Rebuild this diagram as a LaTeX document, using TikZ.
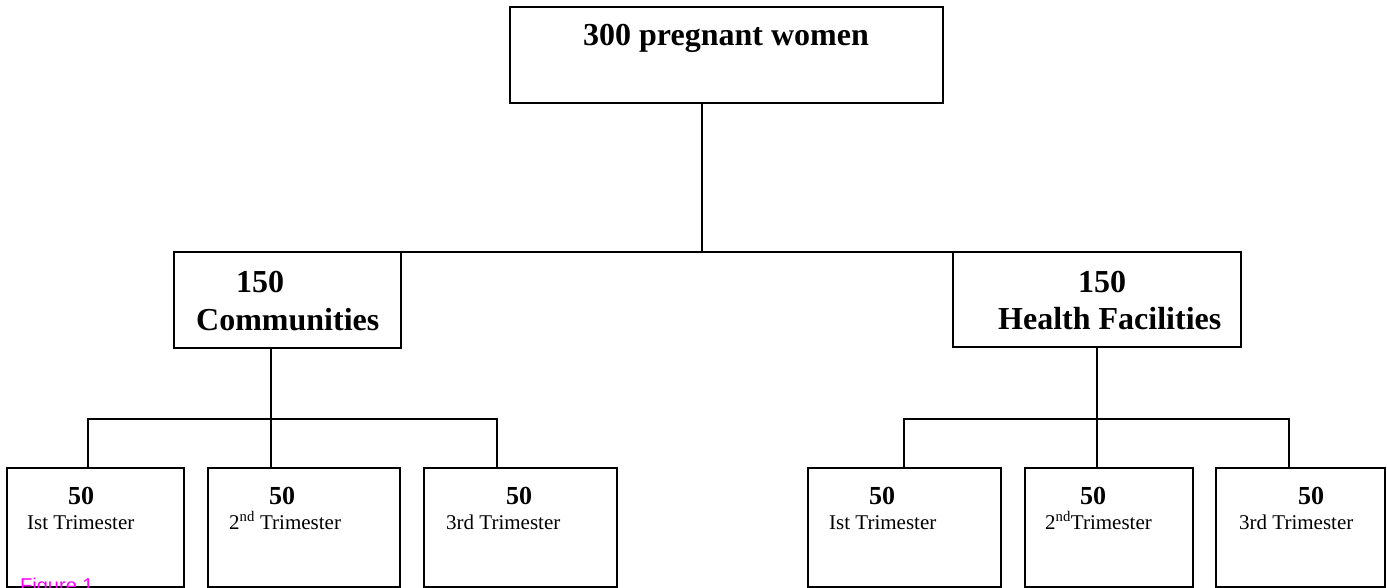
\documentclass[tikz,border=0pt]{standalone}
\usepackage{fontspec}
\setmainfont{Liberation Serif}
\newfontfamily\figfont{Liberation Sans}
\usepackage{tikz}
\usetikzlibrary{positioning}
\definecolor{figmagenta}{rgb}{1, 0, 1}
\def\headtxt(#1){{\fontsize{32}{36}\selectfont\bfseries #1}}
\def\numtxt(#1){{\fontsize{26}{30}\selectfont\bfseries #1}}
\def\tritxt(#1){{\fontsize{21}{25}\selectfont #1}}
\tikzstyle{box} = [draw, line width=1.6pt, inner sep=0pt, outer sep=0pt]
\tikzstyle{lbl} = [inner sep=0pt, anchor=base west]
\tikzstyle{link} = [line width=1.5pt]
\begin{document}
\begin{tikzpicture}[x=1pt,y=-1pt]
\useasboundingbox (0,0) rectangle (1387,588);
\clip (0,0) rectangle (1387,588);
\node[box, minimum width=433pt, minimum height=96pt] (top) at (726.5,55) {};
\node[box, minimum width=227pt, minimum height=96pt] (comm) at (287.5,300) {};
\node[box, minimum width=288pt, minimum height=95pt] (hf) at (1097,299.5) {};
\node[box, minimum width=177pt, minimum height=119pt] (b1) at (95.5,527.5) {};
\node[box, minimum width=192pt, minimum height=119pt] (b2) at (304,527.5) {};
\node[box, minimum width=193pt, minimum height=119pt] (b3) at (520.5,527.5) {};
\node[box, minimum width=193pt, minimum height=119pt] (b4) at (904.5,527.5) {};
\node[box, minimum width=168pt, minimum height=119pt] (b5) at (1109,527.5) {};
\node[box, minimum width=169pt, minimum height=119pt] (b6) at (1300.5,527.5) {};
\node[lbl] (ttop) at (583,46) {\headtxt(300 pregnant women)};
\node[lbl] (ncomm) at (236,292) {\headtxt(150)};
\node[lbl] (tcomm) at (196,330) {\headtxt(Communities)};
\node[lbl] (nhf) at (1078,292) {\headtxt(150)};
\node[lbl] (thf) at (998,329) {\headtxt(Health Facilities)};
\node[lbl] (n1) at (68,504) {\numtxt(50)};
\node[lbl] (n2) at (269,504) {\numtxt(50)};
\node[lbl] (n3) at (506,504) {\numtxt(50)};
\node[lbl] (n4) at (869,504) {\numtxt(50)};
\node[lbl] (n5) at (1080,504) {\numtxt(50)};
\node[lbl] (n6) at (1298,504) {\numtxt(50)};
\node[lbl] (t1) at (27,529) {\tritxt(Ist Trimester)};
\node[lbl] (t2) at (229,529) {\tritxt(2\textsuperscript{nd} Trimester)};
\node[lbl] (t3) at (446,529) {\tritxt(3rd Trimester)};
\node[lbl] (t4) at (829,529) {\tritxt(Ist Trimester)};
\node[lbl] (t5) at (1045,529) {\tritxt(2\textsuperscript{nd}Trimester)};
\node[lbl] (t6) at (1239,529) {\tritxt(3rd Trimester)};
\node[lbl, text=figmagenta] (fig) at (20,592) {\figfont\fontsize{20}{24}\selectfont Figure 1};
\coordinate (jtop) at (702,252);
\coordinate (jl) at (271,419);
\coordinate (jl1) at (88,419);
\coordinate (jl3) at (497,419);
\coordinate (jr) at (1097,419);
\coordinate (jr1) at (904,419);
\coordinate (jr3) at (1289,419);
\draw[link, line width=1.1pt] (jtop |- top.south) -- (jtop);
\draw[link] (comm.north east) -- (hf.north west);
\draw[link] (jl |- comm.south) -- (jl);
\draw[link] (jl1 |- b1.north) -- (jl1) -- (jl3) -- (jl3 |- b3.north);
\draw[link] (jl) -- (jl |- b2.north);
\draw[link] (hf.south) -- (jr);
\draw[link] (jr1 |- b4.north) -- (jr1) -- (jr3) -- (jr3 |- b6.north);
\draw[link] (jr) -- (jr |- b5.north);
\end{tikzpicture}
\end{document}
